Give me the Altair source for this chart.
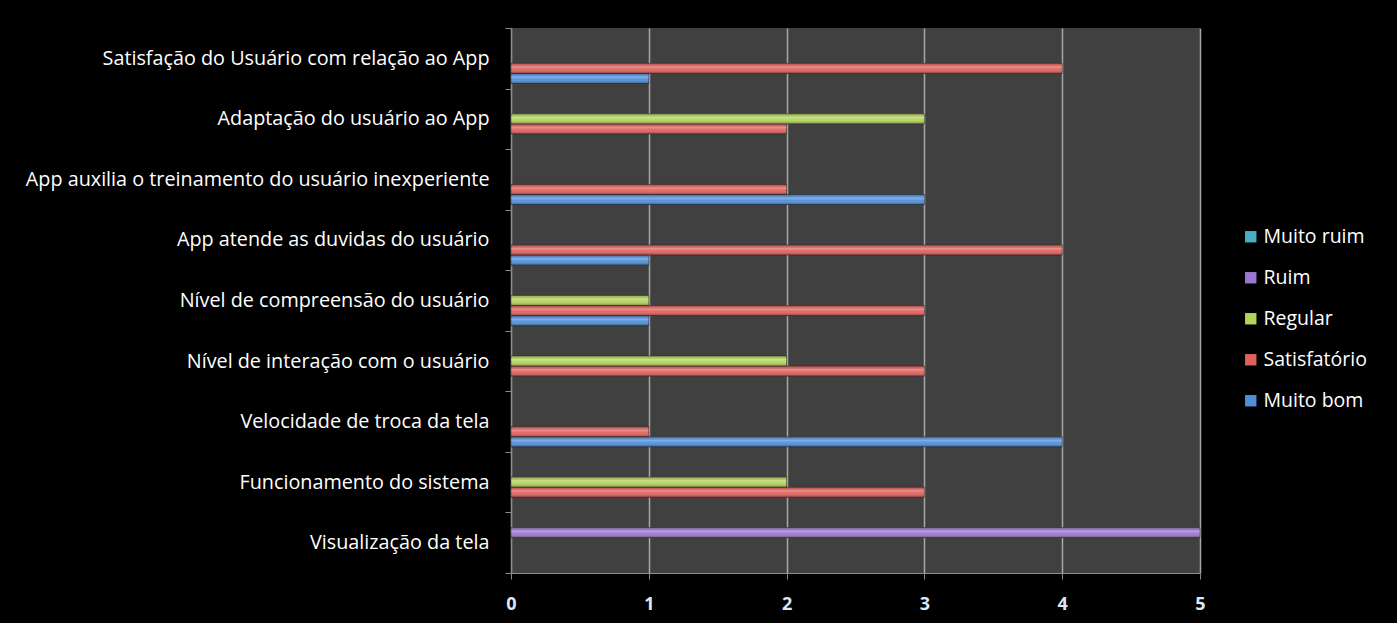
import altair as alt
import pandas as pd

categories = [
    "Satisfação do Usuário com relação ao App",
    "Adaptação do usuário ao App",
    "App auxilia o treinamento do usuário inexperiente",
    "App atende as duvidas do usuário",
    "Nível de compreensão do usuário",
    "Nível de interação com o usuário",
    "Velocidade de troca da tela",
    "Funcionamento do sistema",
    "Visualização da tela",
]
series = ["Muito ruim", "Ruim", "Regular", "Satisfatório", "Muito bom"]
muito_bom = [1, 0, 3, 1, 1, 0, 4, 0, 0]
satisfatorio = [4, 2, 2, 4, 3, 3, 1, 3, 0]
regular = [0, 3, 0, 0, 1, 2, 0, 2, 0]
ruim = [0, 0, 0, 0, 0, 0, 0, 0, 5]
muito_ruim = [0, 0, 0, 0, 0, 0, 0, 0, 0]
colors = ["#4BACC6", "#9B78CF", "#B3D35A", "#E0605C", "#4F8FDA"]

values = {
    "Muito bom": muito_bom,
    "Satisfatório": satisfatorio,
    "Regular": regular,
    "Ruim": ruim,
    "Muito ruim": muito_ruim,
}
rows = []
for s, vals in values.items():
    for c, v in zip(categories, vals):
        rows.append({"cat": c, "serie": s, "valor": v})
df = pd.DataFrame(rows)

font = "Open Sans"

y_enc = alt.Y(
    "cat:N",
    sort=categories,
    scale=alt.Scale(paddingInner=0, paddingOuter=0),
    axis=alt.Axis(
        title=None, tickBand="extent", tickSize=6, tickColor="#8C8C8C",
        domainColor="#8C8C8C", labelColor="#FFFFFF", labelFontSize=19.8,
        labelFont=font, labelPadding=16, labelLimit=600, grid=False,
    ),
)
yoff = alt.YOffset(
    "serie:N",
    scale=alt.Scale(domain=series, paddingInner=0, paddingOuter=0.5),
)
x_enc = alt.X(
    "valor:Q",
    scale=alt.Scale(domain=[0, 5], nice=False),
    axis=alt.Axis(
        title=None, values=[0, 1, 2, 3, 4, 5], tickSize=6, tickColor="#8C8C8C",
        domainColor="#8C8C8C", gridColor="#A6A6A6", gridWidth=1.5,
        labelColor="#DCE7F4", labelFontSize=18, labelFontWeight="bold",
        labelFont=font, labelPadding=16, labelFlush=False,
    ),
)

base = alt.Chart(df).transform_filter("datum.valor > 0")

bars = base.mark_bar(strokeWidth=0.8, stroke="#202020", strokeOpacity=0.6).encode(
    y=y_enc,
    yOffset=yoff,
    x=x_enc,
    color=alt.Color(
        "serie:N",
        scale=alt.Scale(domain=series, range=colors),
        legend=alt.Legend(
            title=None, orient="none", legendX=730, legendY=199,
            symbolType="square", symbolSize=130, symbolStrokeWidth=0,
            labelColor="#FFFFFF", labelFontSize=19.5, labelFont=font,
            rowPadding=20, labelOffset=3,
        ),
    ),
)

shine = base.mark_bar(
    color=alt.Gradient(
        gradient="linear", x1=0, y1=0, x2=0, y2=1,
        stops=[
            alt.GradientStop(offset=0, color="rgba(0,0,0,0.15)"),
            alt.GradientStop(offset=0.35, color="rgba(255,255,255,0.3)"),
            alt.GradientStop(offset=0.6, color="rgba(255,255,255,0.05)"),
            alt.GradientStop(offset=1, color="rgba(0,0,0,0.4)"),
        ],
    )
).encode(y=y_enc, yOffset=yoff, x=x_enc)

chart = alt.layer(bars, shine).properties(
    width=689,
    height=545,
    background="black",
    padding={"left": 511, "top": 28, "right": 197, "bottom": 50},
    autosize=alt.AutoSizeParams(type="none"),
).configure_view(fill="#404040", stroke=None)

chart.save("out.html", embed_options={"renderer": "svg", "actions": False})
